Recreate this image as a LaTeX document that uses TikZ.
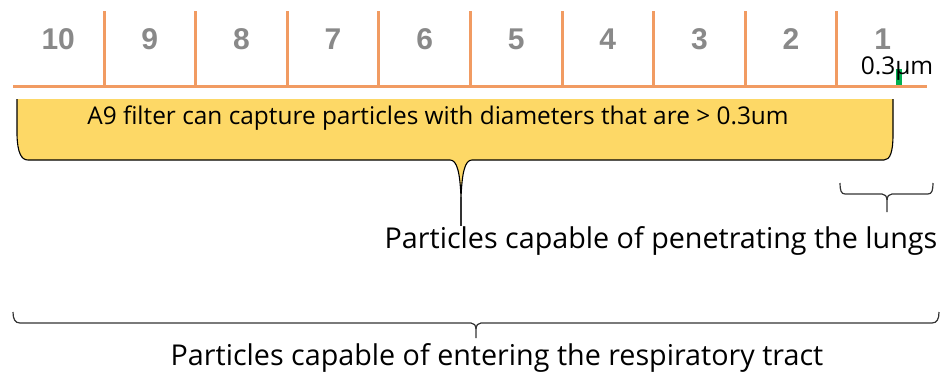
\documentclass[tikz,border=0pt]{standalone}
\usepackage{fontspec}
\setmainfont{Open Sans}
\newfontfamily\numfont{Liberation Sans}
\usetikzlibrary{positioning}

\definecolor{rulerorange}{RGB}{241,155,98}
\definecolor{calloutyellow}{RGB}{253,216,102}
\definecolor{numgray}{RGB}{137,137,137}
\definecolor{markgreen}{RGB}{0,176,80}

\begin{document}
\begin{tikzpicture}[x=1pt, y=-1pt, every node/.style={inner sep=0pt}]
\tikzset{
  cell/.style={font=\numfont\bfseries\fontsize{30}{30}\selectfont, text=numgray},
  tick/.style={draw=rulerorange, line width=3pt},
  callout/.style={draw=black, fill=calloutyellow, line width=1.1pt},
  bracket/.style={draw=black!80, line width=1.2pt, line join=round},
  caption/.style={font=\fontsize{28.7}{28.7}\selectfont}
}
\useasboundingbox (0,0) rectangle (946,372);

% Ruler
\foreach \k in {1,...,9}
  \draw[tick] ({104+91.6*(\k-1)},11) -- ({104+91.6*(\k-1)},87);
\draw[tick] (13,86.5) -- (927,86.5);
\foreach \k [evaluate=\k as \n using int(11-\k)] in {1,...,10}
  \node[cell] (n\n) at ({104+91.6*(\k-1.5)},39.5) {\n};

% Size mark
\fill[markgreen] (896,69) rectangle (902,85);
\node[anchor=base, font=\fontsize{24.5}{24.5}\selectfont] (size) at (897,74) {0.3μm};

% Filter callout
\draw[callout] (17,99) -- (17,135) .. controls (17.5,152) and (21,160) .. (28,160)
  -- (450,160) .. controls (457,160) and (460,172) .. (461,198)
  .. controls (462,172) and (465,160) .. (472,160)
  -- (884,160) .. controls (890,160) and (893,152) .. (893,135) -- (893,99);
\coordinate (tip) at (461,197);
\node[anchor=base, font=\fontsize{24.4}{24.4}\selectfont] (filter) at (438,124)
  {A9 filter can capture particles with diameters that are > 0.3um};

% Captions
\node[caption, anchor=base] (lungs) at (661,248) {Particles capable of penetrating the lungs};
\node[caption, anchor=base] (tract) at (497,365) {Particles capable of entering the respiratory tract};
\draw[bracket] (tip) -- (tip |- lungs.north);

% Brackets
\draw[bracket] (840,183) .. controls (840,190) and (841,194) .. (845,194) -- (882,194)
  .. controls (885,194) and (887,196) .. (887,201) -- (887,212)
  (887,201) .. controls (887,196) and (889,194) .. (892,194) -- (928,194)
  .. controls (932,194) and (933,190) .. (933,183);
\draw[bracket] (13,312) .. controls (13,319) and (15,323) .. (20,323) -- (471,323)
  .. controls (474,323) and (476,325) .. (476,330) -- (476,338)
  (476,330) .. controls (476,325) and (478,323) .. (481,323) -- (932,323)
  .. controls (937,323) and (939,319) .. (939,312);
\end{tikzpicture}
\end{document}
